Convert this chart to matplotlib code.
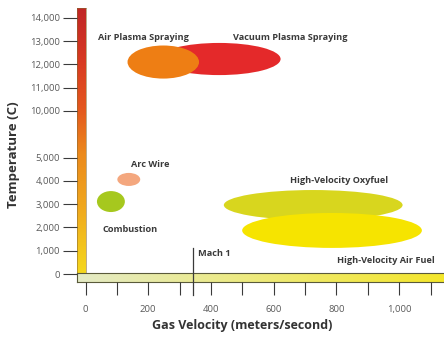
import numpy as np
import matplotlib
matplotlib.use("Agg")
import matplotlib.pyplot as plt
from matplotlib.patches import Ellipse
from matplotlib.colors import LinearSegmentedColormap

plt.rcParams['font.family'] = ['Open Sans', 'DejaVu Sans']

# process data: center velocity, center temperature, velocity span, temperature span
processes = ["Vacuum Plasma Spraying", "Air Plasma Spraying", "Arc Wire", "Combustion",
             "High-Velocity Oxyfuel", "High-Velocity Air Fuel"]
vel_center = [426, 248, 138, 81, 726, 786]
temp_center = [12230, 12100, 4060, 3110, 2960, 1870]
vel_span = [392, 228, 73, 89, 570, 573]
temp_span = [1380, 1420, 560, 900, 1290, 1500]
colors = ["#E4292A", "#EE7E14", "#F4A77E", "#A6C81E", "#D8D61E", "#F6E400"]

# label positions (velocity, temperature)
label_x = [654, 185, 207, 141, 808, 958]
label_y = [13170, 13170, 4680, 1890, 4030, 600]

mach1 = 343

yticks = [0, 1000, 2000, 3000, 4000, 5000, 10000, 11000, 12000, 13000, 14000]
xticks = [0, 200, 400, 600, 800, 1000]
xminor = [100, 300, 500, 700, 900, 1100]


# broken temperature scale: 5000-10000 squeezed into two steps
def fwd(v):
    v = np.asarray(v, float)
    return np.where(v < 5000, v / 1000,
                    np.where(v < 10000, 5 + (v - 5000) / 2500, 7 + (v - 10000) / 1000))


def inv(u):
    u = np.asarray(u, float)
    return np.where(u < 5, u * 1000,
                    np.where(u < 7, 5000 + (u - 5) * 2500, 10000 + (u - 7) * 1000))


W, H = 444, 338
fig = plt.figure(figsize=(W / 100, H / 100), dpi=100)

ax = fig.add_axes([85.5 / W, (H - 274) / H, (W - 85.5) / W, 266 / H])
ax.set_zorder(3)
ax.patch.set_visible(False)
ax.set_yscale('function', functions=(fwd, inv))
ax.set_xlim(0, 1143)
ax.set_ylim(0, 14420)

for name, cx, cy, w, h, c in zip(processes, vel_center, temp_center, vel_span, temp_span, colors):
    ax.add_patch(Ellipse((cx, cy), w, h, facecolor=c, edgecolor='none'))

for name, lx, ly in zip(processes, label_x, label_y):
    ax.text(lx, ly, name, ha='center', va='center', fontsize=6.6,
            fontweight='bold', color='#3a3a3a')

ax.plot([mach1, mach1], [1100, -900], color='#3a3a3a', lw=0.9, clip_on=False, zorder=5)
ax.text(mach1 + 16, 900, "Mach 1", ha='left', va='center', fontsize=6.6,
        fontweight='bold', color='#3a3a3a')

for s in ['top', 'right']:
    ax.spines[s].set_visible(False)
ax.spines['left'].set_position(('outward', 6.1))
ax.spines['bottom'].set_position(('outward', 5.8))
ax.spines['left'].set_visible(False)
ax.spines['bottom'].set_visible(False)

ax.set_yticks(yticks)
ax.set_yticklabels([f"{t:,}" for t in yticks])
ax.set_xticks(xticks)
ax.set_xticklabels([f"{t:,}" for t in xticks])
ax.set_xticks(xminor, minor=True)
ax.tick_params(axis='y', length=10, width=0.8, color='#3a3a3a', pad=2.2,
               labelsize=6.8, labelcolor='#5a5a5a')
ax.tick_params(axis='x', which='both', length=9.4, width=0.8, color='#3a3a3a', pad=7,
               labelsize=6.8, labelcolor='#5a5a5a')

ax.set_xlabel("Gas Velocity (meters/second)", fontsize=9, fontweight='bold', color='#333333')
ax.xaxis.set_label_coords(0.4365, -0.169)
ax.set_ylabel("Temperature (C)", fontsize=9.5, fontweight='bold', color='#333333')
ax.yaxis.set_label_coords(-0.183, 0.447)

# gradient bars standing in for the axis lines
ycmap = LinearSegmentedColormap.from_list(
    'ybar', [(0, '#F5D81C'), (0.25, '#F0A81E'), (0.45, '#EC8A1C'),
             (0.62, '#E4581E'), (0.8, '#D83A22'), (1, '#C02626')])
yb = fig.add_axes([77 / W, (H - 274) / H, 9 / W, 266 / H])
yb.set_zorder(1)
yb.imshow(np.linspace(1, 0, 256).reshape(-1, 1), cmap=ycmap, aspect='auto',
          extent=[0, 1, 0, 1])
yb.set_xticks([])
yb.set_yticks([])
for s in yb.spines.values():
    s.set_color('#8a6a30')
    s.set_linewidth(0.4)

xcmap = LinearSegmentedColormap.from_list('xbar', ['#E4EAC6', '#EEEA7A', '#F4E62A'])
xb = fig.add_axes([77 / W, (H - 282) / H, (W - 77) / W, 9 / H])
xb.set_zorder(2)
xb.imshow(np.linspace(0, 1, 256).reshape(1, -1), cmap=xcmap, aspect='auto',
          extent=[0, 1, 0, 1])
xb.set_xticks([])
xb.set_yticks([])
for s in xb.spines.values():
    s.set_color('#5a5a3a')
    s.set_linewidth(0.8)
xb.spines['right'].set_visible(False)

fig.savefig("out.png", dpi=100)
